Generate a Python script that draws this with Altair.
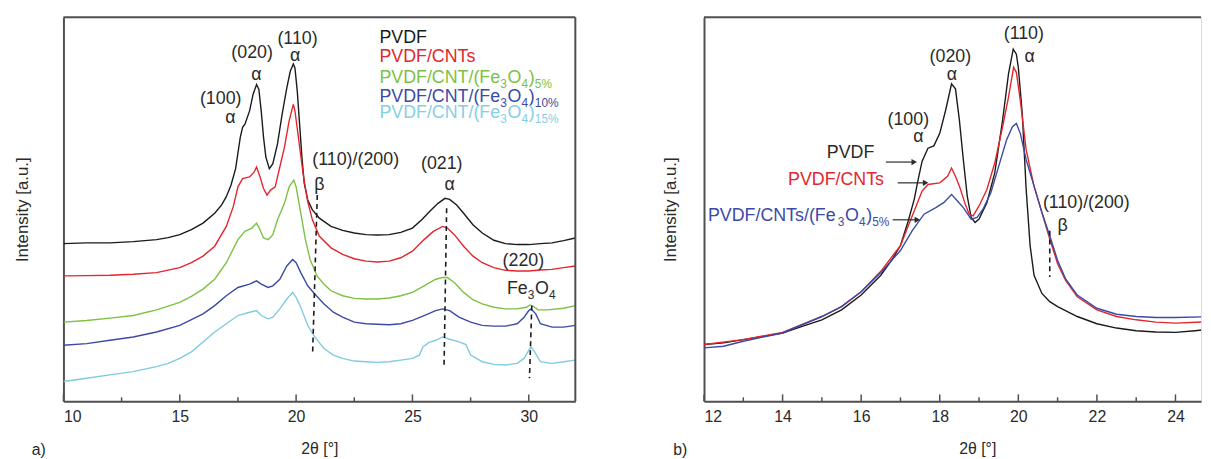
import altair as alt
import pandas as pd

# ---------------- Panel a data (2theta, intensity a.u.) ----------------
a_pvdf_t = [10.0, 11, 12, 13, 14, 14.5, 15, 15.5, 16, 16.5, 16.8, 17.0, 17.2, 17.4, 17.6, 17.7, 17.8, 18.0, 18.15, 18.3,
            18.4, 18.5, 18.6, 18.7, 18.85, 19.0, 19.2, 19.4, 19.6, 19.75, 19.88, 19.95, 20.05, 20.15, 20.25, 20.35, 20.5,
            20.7, 21.0, 21.5, 22.0, 22.5, 23.0, 23.5, 24.0, 24.5, 25.0, 25.4, 25.8, 26.1, 26.4, 26.6, 26.9, 27.2, 27.6,
            28.0, 28.5, 29.0, 29.5, 30.0, 30.5, 31.0, 31.5, 32.0]
a_pvdf_i = [478, 480, 480, 484, 490, 496, 505, 520, 540, 570, 595, 620, 655, 705, 800, 830, 840, 880, 930, 960,
            945, 880, 800, 740, 705, 720, 780, 870, 950, 1000, 1022, 1010, 940, 840, 740, 660, 610,
            580, 555, 530, 518, 510, 505, 504, 505, 512, 525, 550, 580, 600, 615, 612, 595, 570, 535,
            510, 488, 478, 475, 475, 478, 480, 487, 495]

a_cnt_t = [10, 11, 12, 13, 14, 15, 15.5, 16, 16.5, 17.0, 17.3, 17.5, 17.7, 18.0, 18.2, 18.3, 18.45, 18.6, 18.75, 18.9,
           19.1, 19.3, 19.5, 19.7, 19.88, 19.95, 20.1, 20.3, 20.5, 20.7, 21.0, 21.5, 22.0, 22.5, 23.0, 23.5, 24.0,
           24.5, 25.0, 25.5, 25.9, 26.3, 26.5, 26.8, 27.2, 27.6, 28.0, 28.5, 29.0, 29.5, 30.0, 30.5, 31.0, 31.5, 32.0]
a_cnt_i = [380, 381, 382, 385, 390, 405, 420, 440, 470, 530, 590, 650, 675, 680, 695, 710, 680, 645, 625, 640,
           650, 710, 770, 850, 900, 880, 800, 690, 605, 550, 500, 465, 445, 432, 425, 422, 425,
           435, 455, 490, 515, 530, 525, 505, 470, 440, 420, 405, 397, 395, 395, 398, 400, 405, 410]

a_g5_t = [10, 11, 12, 13, 14, 15, 15.5, 16, 16.5, 17.0, 17.5, 17.8, 18.1, 18.3, 18.45, 18.6, 18.8, 19.0, 19.2, 19.5,
          19.7, 19.9, 20.0, 20.2, 20.4, 20.6, 20.9, 21.2, 21.5, 22.0, 22.5, 23.0, 23.5, 24.0, 24.5, 25.0, 25.5,
          26.0, 26.3, 26.5, 26.8, 27.2, 27.6, 28.0, 28.5, 29.0, 29.5, 29.9, 30.05, 30.2, 30.4, 30.8, 31.5, 32.0]
a_g5_i = [240, 245, 252, 260, 277, 300, 318, 340, 370, 420, 490, 515, 525, 540, 520, 495, 490, 505, 550, 600,
          650, 670, 650, 570, 490, 430, 380, 355, 335, 320, 312, 310, 310, 313, 320, 330, 350,
          370, 375, 375, 360, 330, 308, 295, 285, 280, 280, 285, 292, 288, 277, 277, 282, 290]

a_b10_t = [10, 11, 12, 13, 14, 15, 16, 16.5, 17.0, 17.5, 18.0, 18.3, 18.5, 18.8, 19.0, 19.3, 19.6, 19.85, 20.0, 20.2,
           20.5, 20.8, 21.2, 21.6, 22.0, 22.5, 23.0, 24.0, 24.5, 25.0, 25.5, 26.0, 26.3, 26.6, 27.0, 27.5, 28.0,
           28.5, 29.0, 29.5, 29.8, 30.0, 30.1, 30.3, 30.5, 31.0, 31.5, 32.0]
a_b10_i = [170, 175, 185, 195, 210, 230, 265, 290, 320, 345, 355, 365, 355, 345, 350, 370, 410, 430, 420, 390,
           350, 325, 295, 270, 255, 240, 235, 232, 235, 245, 260, 275, 280, 275, 255, 240, 230,
           228, 228, 235, 255, 275, 280, 265, 235, 225, 225, 230]

a_c15_t = [10, 11, 12, 13, 14, 14.5, 15, 15.5, 16, 16.5, 17.0, 17.5, 18.0, 18.3, 18.5, 18.8, 19.0, 19.3, 19.6, 19.85,
           20.0, 20.2, 20.5, 20.8, 21.2, 21.6, 22.0, 22.5, 23.0, 23.5, 24.0, 24.5, 25.0, 25.3, 25.45, 25.7, 26.0,
           26.3, 26.6, 27.0, 27.3, 27.5, 28.0, 28.5, 29.0, 29.5, 29.8, 30.0, 30.1, 30.25, 30.5, 31.0, 31.5, 32.0]
a_c15_i = [60, 70, 80, 90, 105, 115, 130, 150, 180, 210, 235, 260, 270, 275, 260, 250, 255, 280, 310, 330,
           315, 285, 230, 195, 160, 140, 130, 122, 120, 118, 120, 125, 130, 140, 165, 178, 185,
           195, 188, 180, 172, 140, 120, 112, 110, 115, 130, 155, 165, 150, 120, 115, 120, 125]

# ---------------- Panel b data ----------------
b_pvdf_t = [12.0, 12.5, 13, 13.5, 14, 14.5, 15, 15.5, 16.0, 16.5, 16.8, 17.0, 17.2, 17.35, 17.45, 17.55, 17.7, 17.85,
            18.0, 18.15, 18.3, 18.4, 18.5, 18.6, 18.7, 18.8, 18.9, 19.0, 19.2, 19.4, 19.6, 19.75, 19.87, 19.95, 20.0,
            20.1, 20.2, 20.3, 20.4, 20.6, 20.8, 21.0, 21.5, 22.0, 22.5, 23.0, 23.5, 24.0, 24.5, 25.0]
b_pvdf_i = [172, 177, 187, 197, 207, 227, 247, 277, 322, 382, 432, 472, 547, 612, 672, 727, 767, 774,
            812, 882, 962, 947, 852, 732, 622, 557, 542, 552, 602, 692, 852, 992, 1067, 1052, 1012,
            872, 642, 472, 382, 327, 302, 287, 257, 235, 222, 214, 210, 209, 214, 220]

b_cnt_t = [12, 13, 14, 15, 15.5, 16, 16.5, 17.0, 17.2, 17.4, 17.55, 17.7, 18.0, 18.2, 18.3, 18.4, 18.5, 18.65, 18.75,
           18.85, 19.0, 19.2, 19.4, 19.6, 19.75, 19.88, 19.95, 20.05, 20.2, 20.4, 20.6, 20.8, 21.0, 21.2, 21.5,
           22.0, 22.5, 23.0, 23.5, 24.0, 25.0]
b_cnt_i = [172, 187, 209, 257, 287, 332, 394, 472, 532, 592, 637, 657, 662, 682, 707, 682, 652, 597, 567,
           562, 592, 642, 722, 832, 922, 1012, 997, 912, 762, 652, 572, 492, 417, 367, 317,
           277, 257, 247, 240, 237, 242]

b_fe5_t = [12, 12.5, 13, 14, 15, 15.5, 16, 16.5, 17.0, 17.3, 17.6, 17.9, 18.1, 18.3, 18.45, 18.6, 18.8, 18.95, 19.1,
           19.3, 19.5, 19.7, 19.85, 19.95, 20.05, 20.2, 20.4, 20.6, 20.8, 21.0, 21.2, 21.5, 22.0, 22.5, 23.0, 23.5,
           24.0, 25.0]
b_fe5_i = [162, 167, 182, 207, 257, 287, 332, 390, 457, 517, 567, 587, 602, 627, 607, 587, 552, 557, 582,
           632, 712, 792, 832, 842, 812, 732, 652, 572, 502, 427, 372, 322, 282, 264, 257, 254,
           254, 257]

# tick values
a_major = [10, 15, 20, 25, 30]
a_minor = [12.5, 17.5, 22.5, 27.5]
b_major = [12, 14, 16, 18, 20, 22, 24]
b_minor = [13, 15, 17, 19, 21, 23]

# annotation texts (label, 2theta, intensity, colour key)
a_labels = ["(100)", "α", "(020)", "α", "(110)", "α", "(110)/(200)", "β", "(021)", "α", "(220)"]
a_lab_t = [16.76, 17.18, 18.11, 18.29, 20.06, 19.96, 22.56, 21.0, 26.26, 26.6, 29.77]
a_lab_i = [915, 858, 1055, 990, 1098, 1045, 730, 655, 720, 655, 425]
a_lab_c = ["k"] * 11

b_labels = ["(110)", "α", "(020)", "α", "(100)", "α", "PVDF", "PVDF/CNTs", "(110)/(200)", "β"]
b_lab_t = [20.14, 20.29, 18.27, 18.31, 17.20, 17.46, 15.73, 15.36, 21.73, 21.13]
b_lab_i = [1112, 1042, 1042, 990, 852, 800, 752, 672, 602, 532]
b_lab_c = ["k", "k", "k", "k", "k", "k", "k", "r", "k", "k"]

# dashed marker lines (top 2theta, bottom 2theta, top I, bottom I)
a_dash_t1 = [20.91, 26.47, 30.13]
a_dash_t2 = [20.71, 26.36, 30.03]
a_dash_i1 = [625, 585, 290]
a_dash_i2 = [145, 110, 70]
b_dash_t = [20.8]
b_dash_i1 = [517]
b_dash_i2 = [377]

# pointer lines in panel b
b_ptr_t1 = [16.63, 16.93, 16.80]
b_ptr_t2 = [17.35, 17.64, 17.43]
b_ptr_i = [725, 662, 550]

BLACK = "#1a1a1a"
RED = "#e3262d"
GREEN = "#7cc143"
BLUE = "#3a4aa6"
CYAN = "#7fcbe0"
TXT = "#2a2a2a"
FRAME = "#505050"
FONT = "Liberation Sans"
KEYCOL = {"k": TXT, "r": RED}

W_A, W_B, H = 517, 502, 388
A_DOM = [10, 32]
B_DOM = [12, 24.65]
I_DOM = [0, 1164]

# Arial advance widths (per 1000 em) for composing subscripted labels
AW = {'P': 667, 'V': 667, 'D': 722, 'F': 611, '/': 278, 'C': 722, 'N': 722, 'T': 611, '(': 333, ')': 333,
      'e': 556, 'O': 778, 's': 500, '%': 889}


def tw(s, fs):
    return sum(AW.get(ch, 556) for ch in s) * fs / 1000.0


def rich(t0, i0, parts, color, px_per_deg, units_per_px=3.0, fs=18, sfs=12, drop=6):
    rows, off = [], 0.0
    for txt, sub in parts:
        f = sfs if sub else fs
        rows.append({"x": t0 + off / px_per_deg, "y": i0 - (drop * units_per_px if sub else 0),
                     "t": txt, "c": color, "s": f})
        off += tw(txt, f) + (0.8 if sub else 0.0)
    return rows


def fe_parts(pct, prefix):
    return [(prefix + "(Fe", False), ("3", True), ("O", False), ("4", True), (")", False), (pct, True)]


def series_df(pairs):
    rows = []
    for name, ts, vs in pairs:
        for t, v in zip(ts, vs):
            rows.append({"s": name, "t": t, "i": v})
    return pd.DataFrame(rows)


def base_x(dom, major, title, title_x):
    kw = {}
    if title_x is not None:
        kw["titleX"] = title_x
    return alt.X("t:Q", scale=alt.Scale(domain=dom, nice=False, zero=False),
                 axis=alt.Axis(values=major, title=title, format="d", grid=False, ticks=False, tickSize=0,
                               labelFontSize=16, labelColor=TXT, labelPadding=7, labelFont=FONT,
                               domainColor=FRAME, domainWidth=2, titleFontSize=16, titleFontWeight="normal",
                               titleColor=TXT, titlePadding=17, titleFont=FONT, **kw))


def base_y(pad):
    return alt.Y("i:Q", scale=alt.Scale(domain=I_DOM, nice=False, zero=False),
                 axis=alt.Axis(title="Intensity [a.u.]", labels=False, ticks=False, grid=False,
                               domainColor=FRAME, domainWidth=2, titleFontSize=17, titleFontWeight="normal",
                               titleColor=TXT, titlePadding=pad, titleFont=FONT))


def panel(curves, colors, dom, major, minor, width, ypad, dash_df, labels_df, rich_rows, extra, corner,
          right_frame, title_x=None):
    df = series_df(curves)
    names = [c[0] for c in curves]
    lines = alt.Chart(df).mark_line(strokeWidth=1.4, clip=True).encode(
        x=base_x(dom, major, "2θ [°]", title_x), y=base_y(ypad),
        color=alt.Color("s:N", scale=alt.Scale(domain=names, range=colors), legend=None),
        detail="s:N")
    layers = [lines]
    layers.append(alt.Chart(dash_df).mark_rule(strokeDash=[5, 4], strokeWidth=1.6, color=BLACK).encode(
        x="t1:Q", x2="t2:Q", y="i1:Q", y2="i2:Q"))
    layers.append(alt.Chart(pd.DataFrame({"t": major})).mark_rule(color=FRAME, strokeWidth=1.5).encode(
        x="t:Q", y=alt.value(H), y2=alt.value(H - 7)))
    layers.append(alt.Chart(pd.DataFrame({"t": minor})).mark_rule(color=FRAME, strokeWidth=1.5).encode(
        x="t:Q", y=alt.value(H), y2=alt.value(H - 4)))
    layers.append(alt.Chart(labels_df).mark_text(fontSize=18, align="center", baseline="middle",
                                                 font=FONT).encode(
        x="t:Q", y="i:Q", text="lab:N", color=alt.Color("col:N", scale=None)))
    layers.append(alt.Chart(pd.DataFrame(rich_rows)).mark_text(align="left", baseline="middle", font=FONT).encode(
        x="x:Q", y="y:Q", text="t:N", color=alt.Color("c:N", scale=None),
        size=alt.Size("s:Q", scale=None)))
    layers += extra
    # frame: top (and right)
    layers.append(alt.Chart(pd.DataFrame({"k": [0]})).mark_rule(color=FRAME, strokeWidth=2).encode(
        x=alt.value(0), x2=alt.value(width), y=alt.value(0)))
    if right_frame:
        layers.append(alt.Chart(pd.DataFrame({"k": [0]})).mark_rule(color=FRAME, strokeWidth=2).encode(
            x=alt.value(width), y=alt.value(0), y2=alt.value(H)))
    layers.append(alt.Chart(pd.DataFrame({"k": [corner[0]]})).mark_text(
        fontSize=16, color=TXT, align="center", baseline="middle", font=FONT).encode(
        text="k:N", x=alt.value(corner[1]), y=alt.value(H + 49)))
    return alt.layer(*layers).properties(width=width, height=H)


# ----- panel a -----
a_dash = pd.DataFrame({"t1": a_dash_t1, "t2": a_dash_t2, "i1": a_dash_i1, "i2": a_dash_i2})
a_lab = pd.DataFrame({"lab": a_labels, "t": a_lab_t, "i": a_lab_i, "col": [KEYCOL[c] for c in a_lab_c]})
PXA = W_A / (A_DOM[1] - A_DOM[0])
leg_t0 = 23.58
a_rich = []
a_rich += rich(leg_t0, 1102, [("PVDF", False)], BLACK, PXA)
a_rich += rich(leg_t0, 1042, [("PVDF/CNTs", False)], RED, PXA)
a_rich += rich(leg_t0, 980, fe_parts("5%", "PVDF/CNT/"), GREEN, PXA)
a_rich += rich(leg_t0, 922, fe_parts("10%", "PVDF/CNT/"), BLUE, PXA)
a_rich += rich(leg_t0, 872, fe_parts("15%", "PVDF/CNT/"), "#86cfe3", PXA)
a_rich += rich(29.06, 340, [("Fe", False), ("3", True), ("O", False), ("4", True)], TXT, PXA)

chart_a = panel(
    [("a PVDF", a_pvdf_t, a_pvdf_i), ("a PVDF/CNTs", a_cnt_t, a_cnt_i), ("a 5%", a_g5_t, a_g5_i),
     ("a 10%", a_b10_t, a_b10_i), ("a 15%", a_c15_t, a_c15_i)],
    [BLACK, RED, GREEN, BLUE, CYAN], A_DOM, a_major, a_minor, W_A, 32, a_dash, a_lab, a_rich, [],
    ("a)", -25), True)

# ----- panel b -----
b_dash = pd.DataFrame({"t1": b_dash_t, "t2": b_dash_t, "i1": b_dash_i1, "i2": b_dash_i2})
b_lab = pd.DataFrame({"lab": b_labels, "t": b_lab_t, "i": b_lab_i, "col": [KEYCOL[c] for c in b_lab_c]})
PXB = W_B / (B_DOM[1] - B_DOM[0])
b_rich = rich(12.10, 562, fe_parts("5%", "PVDF/CNTs/"), BLUE, PXB)
ptr = pd.DataFrame({"t1": b_ptr_t1, "t2": b_ptr_t2, "i": b_ptr_i})
ptr_lines = alt.Chart(ptr).mark_rule(color=TXT, strokeWidth=1.2).encode(x="t1:Q", x2="t2:Q", y="i:Q")
ptr_heads = alt.Chart(ptr).mark_point(shape="triangle-right", filled=True, color=TXT, size=40,
                                      opacity=1).encode(x="t2:Q", y="i:Q")

chart_b = panel(
    [("b PVDF", b_pvdf_t, b_pvdf_i), ("b PVDF/CNTs", b_cnt_t, b_cnt_i), ("b 5%", b_fe5_t, b_fe5_i)],
    [BLACK, RED, BLUE], B_DOM, b_major, b_minor, W_B, 25, b_dash, b_lab, b_rich, [ptr_lines, ptr_heads],
    ("b)", -24), False, title_x=276)

chart = alt.hconcat(chart_a, chart_b, spacing=84).resolve_scale(color="independent").properties(
    padding={"left": 5, "top": 5, "right": 0, "bottom": 0}
).configure_view(stroke=None).configure(font=FONT)

chart.save("out.html", embed_options={"renderer": "svg", "actions": False})
